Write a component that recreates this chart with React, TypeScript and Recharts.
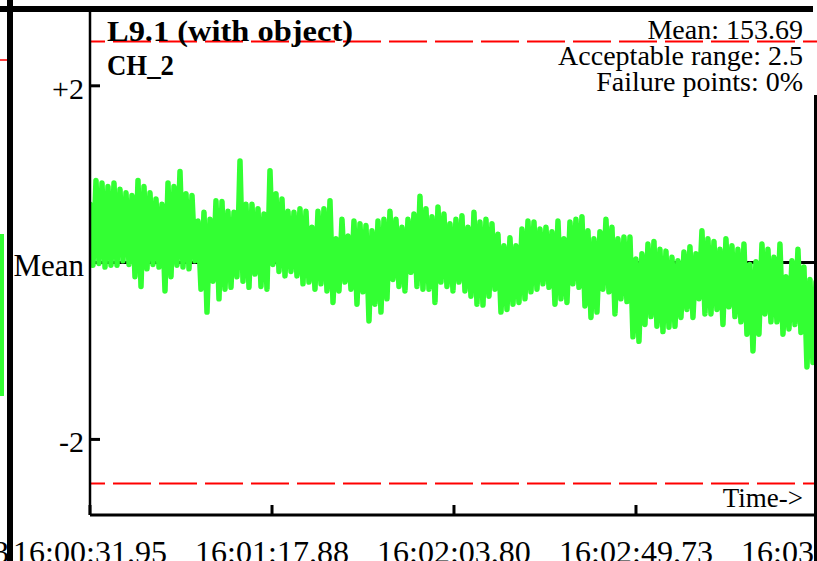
import { LineChart, Line, XAxis, YAxis, ReferenceLine } from "recharts";

const MEAN = 153.69;
const RANGE = 2.5;

const timeTicks = [0, 45.93, 91.85, 137.78, 183.71];
const timeLabels = [
  "16:00:31.95",
  "16:01:17.88",
  "16:02:03.80",
  "16:02:49.73",
  "16:03:35.66",
];
const yTicks = [2, 0, -2];

// seconds between two readings
const SAMPLE_DT = 0.757;

// CH_2 readings as deviation from the mean, crests and troughs alternate
const highs = [
  0.66, 0.93, 0.9, 0.86, 0.9, 0.83, 0.79, 0.76, 0.93, 0.86, 0.79, 0.72, 0.66, 0.9, 0.86,
  1.03, 0.78, 0.76, 0.47, 0.57, 0.49, 0.7, 0.69, 0.58, 0.57, 1.15, 0.66, 0.66, 0.61, 0.55,
  1.04, 0.78, 0.72, 0.58, 0.57, 0.61, 0.58, 0.4, 0.58, 0.61, 0.7, 0.27, 0.49, 0.3, 0.47,
  0.44, 0.42, 0.36, 0.47, 0.49, 0.58, 0.49, 0.4, 0.49, 0.55, 0.75, 0.61, 0.52, 0.63, 0.55,
  0.44, 0.49, 0.53, 0.4, 0.57, 0.46, 0.49, 0.44, 0.32, 0.19, 0.28, 0.19, 0.38, 0.47, 0.46,
  0.38, 0.4, 0.35, 0.47, 0.27, 0.46, 0.49, 0.52, 0.36, 0.27, 0.35, 0.49, 0.4, 0.27, 0.29,
  0.29, 0.04, 0.1, 0.21, 0.24, 0.15, 0.13, 0.06, 0.02, 0.12, 0.18, 0.1, 0.36, 0.27, 0.24,
  0.15, 0.27, 0.19, 0.15, 0.21, -0.02, 0.01, 0.21, 0.15, 0.06, 0.21, -0.16, 0.02, 0.15,
  -0.05, -0.19, -0.22,
];
const lows = [
  -0.03, -0.01, -0.05, -0.03, -0.03, 0.02, -0.02, -0.16, -0.27, -0.07, -0.02, -0.05, -0.32,
  -0.16, -0.03, -0.05, -0.07, 0.02, -0.3, -0.56, -0.21, -0.41, -0.3, -0.28, -0.16, -0.21,
  -0.28, -0.13, -0.27, -0.3,
  -0.02, -0.1, -0.15, -0.1, -0.15, -0.24, -0.22, -0.3, -0.24, -0.32, -0.45, -0.32, -0.22,
  -0.3, -0.47, -0.33, -0.66, -0.47, -0.56, -0.41, -0.19, -0.27, -0.32, -0.11, -0.27, -0.3,
  -0.3, -0.45, -0.22, -0.27,
  -0.32, -0.22, -0.32, -0.38, -0.47, -0.48, -0.38, -0.3, -0.56, -0.53, -0.47, -0.45, -0.41,
  -0.33, -0.3, -0.24, -0.28, -0.47, -0.41, -0.45, -0.24, -0.28, -0.49, -0.62, -0.56, -0.3,
  -0.33, -0.58, -0.41, -0.44, -0.84,
  -0.89, -0.7, -0.61, -0.72, -0.78, -0.73, -0.72, -0.62, -0.53, -0.62, -0.41, -0.58, -0.58,
  -0.53, -0.7, -0.5, -0.61, -0.67, -0.81, -1.0, -0.81, -0.58, -0.67, -0.67, -0.81, -0.75,
  -0.7, -0.79, -1.18, -1.13,
];

const data: { t: number; v: number }[] = [];
for (let i = 0; i < highs.length; i++) {
  data.push({ t: 2 * i * SAMPLE_DT, v: highs[i] });
  if (i < lows.length) data.push({ t: (2 * i + 1) * SAMPLE_DT, v: lows[i] });
}
const failures = data.filter((d) => Math.abs(d.v) > RANGE).length;
const failurePct = Math.round((failures / data.length) * 100);

const FONT = "'Liberation Serif', 'Times New Roman', serif";

const YTick = (props: any) => {
  const { x, y, payload } = props;
  const v = payload.value;
  const label = v === 0 ? "Mean" : v > 0 ? `+${v}` : `${v}`;
  return (
    <g>
      {v !== 0 && (
        <line x1={x} x2={x + 10} y1={y} y2={y} stroke="#000" strokeWidth={3} />
      )}
      <text
        x={x - 6}
        y={y + 13}
        textAnchor="end"
        fontSize={v === 0 ? 31 : 30}
        fontFamily={FONT}
        fill="#000"
      >
        {label}
      </text>
    </g>
  );
};

const XTick = (props: any) => {
  const { x, y, payload } = props;
  const label = timeLabels[timeTicks.indexOf(payload.value)];
  return (
    <g>
      <line x1={x} x2={x} y1={y - 10} y2={y} stroke="#000" strokeWidth={3} />
      <text
        x={x}
        y={y + 48}
        textAnchor="middle"
        fontSize={32}
        fontFamily={FONT}
        fill="#000"
      >
        {label}
      </text>
    </g>
  );
};

export default function App() {
  return (
    <div
      style={{
        position: "absolute",
        left: 0,
        top: 0,
        width: 817,
        height: 561,
        overflow: "hidden",
        background: "#fff",
      }}
    >
      <LineChart
        width={900}
        height={561}
        data={data}
        margin={{ top: 12, right: 82, bottom: 0, left: 0 }}
      >
        <XAxis
          type="number"
          dataKey="t"
          domain={[0, 183.71]}
          ticks={timeTicks}
          interval={0}
          allowDataOverflow
          height={46}
          tickSize={0}
          tickMargin={0}
          tickLine={false}
          tick={<XTick />}
          axisLine={{ stroke: "#000", strokeWidth: 3 }}
        />
        <YAxis
          type="number"
          domain={[-2.855, 2.835]}
          ticks={yTicks}
          interval={0}
          allowDataOverflow
          width={90}
          tickSize={0}
          tickMargin={0}
          tickLine={false}
          tick={<YTick />}
          axisLine={{ stroke: "#000", strokeWidth: 2.5 }}
        />
        <ReferenceLine
          y={RANGE}
          stroke="#ff0000"
          strokeWidth={2}
          strokeDasharray="38 8"
          strokeDashoffset={23}
        />
        <ReferenceLine
          y={-RANGE}
          stroke="#ff0000"
          strokeWidth={2}
          strokeDasharray="38 8"
          strokeDashoffset={23}
        />
        <ReferenceLine y={0} stroke="#000" strokeWidth={3} />
        <Line
          type="linear"
          dataKey="v"
          stroke="#33ff33"
          strokeWidth={5.5}
          strokeLinejoin="round"
          strokeLinecap="round"
          dot={false}
          activeDot={false}
          isAnimationActive={false}
        />
      </LineChart>

      <svg
        width={817}
        height={561}
        style={{ position: "absolute", left: 0, top: 0, pointerEvents: "none" }}
      >
        {/* panel frame and the edge of the neighbouring panel */}
        <rect x={0} y={6} width={813} height={6} fill="#000" />
        <rect x={7} y={0} width={6} height={561} fill="#000" />
        <rect x={814} y={95} width={3} height={466} fill="#000" />
        <line x1={0} x2={7} y1={60} y2={60} stroke="#ff0000" strokeWidth={1.5} />
        <line x1={0} x2={4} y1={262} y2={262} stroke="#000" strokeWidth={2} />
        <rect x={0} y={234} width={4} height={162} fill="#33ff33" />
        <text x={9} y={563} textAnchor="end" fontSize={32} fontFamily={FONT}>
          3
        </text>

        <text
          x={107}
          y={41}
          fontSize={29}
          fontWeight="bold"
          fontFamily={FONT}
          textLength={246}
          lengthAdjust="spacingAndGlyphs"
        >
          L9.1 (with object)
        </text>
        <text
          x={107}
          y={75}
          fontSize={29}
          fontWeight="bold"
          fontFamily={FONT}
          textLength={67}
          lengthAdjust="spacingAndGlyphs"
        >
          CH_2
        </text>

        <text x={803} y={39} textAnchor="end" fontSize={28} fontFamily={FONT}>
          {`Mean: ${MEAN}`}
        </text>
        <text x={803} y={64.5} textAnchor="end" fontSize={28} fontFamily={FONT}>
          {`Acceptable range: ${RANGE}`}
        </text>
        <text x={803} y={90.5} textAnchor="end" fontSize={28} fontFamily={FONT}>
          {`Failure points: ${failurePct}%`}
        </text>
        <text x={803} y={507} textAnchor="end" fontSize={27} fontFamily={FONT}>
          Time-&gt;
        </text>
      </svg>
    </div>
  );
}
